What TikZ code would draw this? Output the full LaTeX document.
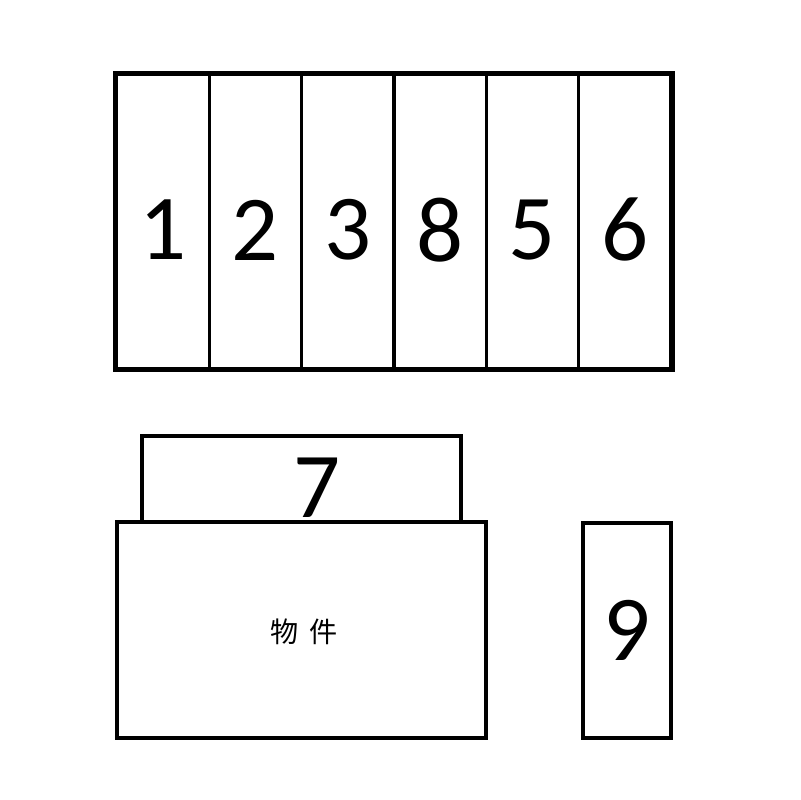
\documentclass[tikz,border=0pt]{standalone}
\usepackage{fontspec}
\setmainfont{Carlito}
\newfontfamily\cjk{Noto Sans CJK SC}
\tikzstyle{cellbox} =[
    draw,
    line width=0.075cm,
    rectangle,
    inner sep=0pt,
    minimum width=2.308cm,
    minimum height=7.325cm
    ]
\tikzstyle{plainbox} =[
    draw,
    fill=white,
    line width=0.1cm,
    rectangle,
    inner sep=0pt
    ]
\tikzstyle{digit} =[
    font=\fontsize{66}{66}\selectfont,
    inner sep=0pt
    ]

\begin{document}
\begin{tikzpicture}[x=0.025cm, y=-0.025cm]
\useasboundingbox (0,0) rectangle (800,800);
% top row
\foreach \lbl [count=\i] in {1,2,3,8,5,6}{
    \node[cellbox] (c\i) at ({117+92.33*(\i-0.5)},221.5) {};
    \node[digit] (d\i) at ({117+92.33*(\i-0.5)},230) {\lbl};
}
\draw[line width=0.1cm] (c1.north west) rectangle (c6.south east);
% lower part
\node[plainbox, minimum width=7.975cm, minimum height=2.15cm] (box7) at (301.5,479) {};
\node[digit] (d7) at (317,488) {7};
\node[plainbox, minimum width=9.225cm, minimum height=5.4cm] (item) at (301.5,630) {};
\node[font=\cjk\fontsize{20}{20}\selectfont] (itemtext) at (304,632) {物\hspace{0.4em}件};
\node[plainbox, minimum width=2.2cm, minimum height=5.375cm] (box9) at (627,630.5) {};
\node[digit] (d9) at (box9.center) {9};
\end{tikzpicture}
\end{document}
